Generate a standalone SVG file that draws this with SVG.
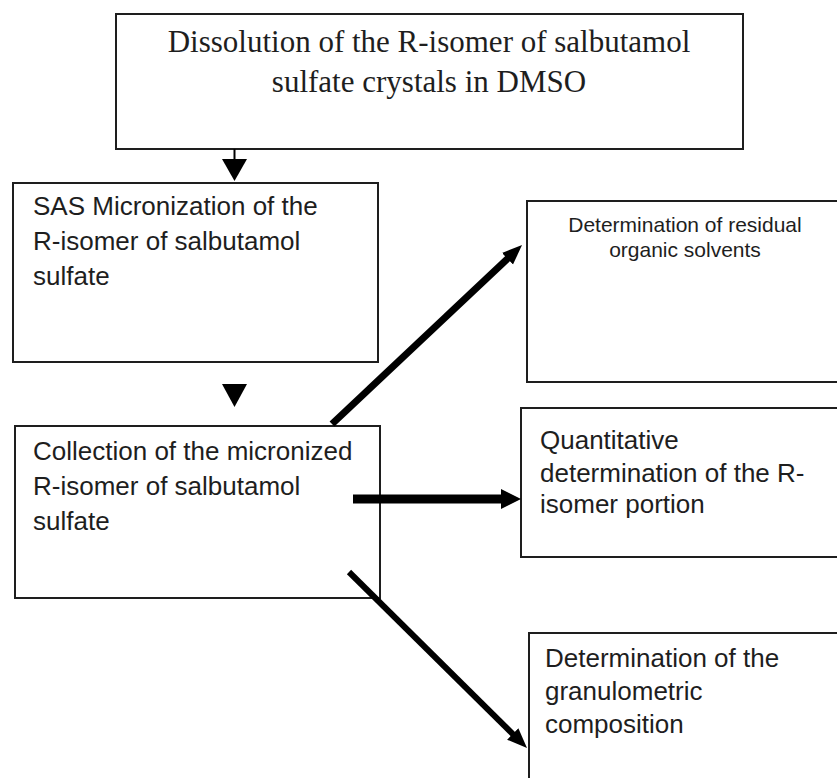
<svg xmlns="http://www.w3.org/2000/svg" width="837" height="778" viewBox="0 0 837 778">
  <defs>
    <style>
      .box { fill: #ffffff; stroke: #1e1e1e; stroke-width: 2; }
      .serif { font-family: "Liberation Serif", "Times New Roman", serif; font-size: 31px; fill: #1e1e1e; }
      .sans { font-family: "Liberation Sans", Arial, sans-serif; font-size: 26px; fill: #1e1e1e; }
      .small { font-family: "Liberation Sans", Arial, sans-serif; font-size: 21px; fill: #1e1e1e; }
      .conn { stroke: #000000; fill: none; stroke-linecap: butt; }
      .head { fill: #000000; stroke: none; }
    </style>
    <marker id="arrowA" markerUnits="userSpaceOnUse" markerWidth="22" markerHeight="18" refX="4" refY="8" orient="auto" viewBox="0 0 22 18">
      <path d="M0,0 L20,8 L0,16 z" fill="#000000"/>
    </marker>
    <marker id="arrowB" markerUnits="userSpaceOnUse" markerWidth="22" markerHeight="22" refX="4" refY="10" orient="auto" viewBox="0 0 22 22">
      <path d="M0,0 L20,10 L0,20 z" fill="#000000"/>
    </marker>
  </defs>
  <rect x="0" y="0" width="837" height="778" fill="#ffffff"/>

  <g id="node-dissolution">
    <rect class="box" x="116" y="14" width="627" height="135"/>
    <text class="serif" x="429" y="52" text-anchor="middle">Dissolution of the R-isomer of salbutamol</text>
    <text class="serif" x="429" y="92" text-anchor="middle">sulfate crystals in DMSO</text>
  </g>

  <g id="node-sas">
    <rect class="box" x="13" y="183" width="365" height="179"/>
    <text class="sans" x="33" y="215">SAS Micronization of the</text>
    <text class="sans" x="33" y="250">R-isomer of salbutamol</text>
    <text class="sans" x="33" y="285">sulfate</text>
  </g>

  <g id="node-collection">
    <rect class="box" x="15" y="426" width="365" height="172"/>
    <text class="sans" x="33" y="460">Collection of the micronized</text>
    <text class="sans" x="33" y="495">R-isomer of salbutamol</text>
    <text class="sans" x="33" y="530">sulfate</text>
  </g>

  <g id="node-residual">
    <rect class="box" x="527" y="201" width="330" height="181"/>
    <text class="small" x="685" y="232" text-anchor="middle">Determination of residual</text>
    <text class="small" x="685" y="257" text-anchor="middle">organic solvents</text>
  </g>

  <g id="node-quantitative">
    <rect class="box" x="521" y="408" width="330" height="149"/>
    <text class="sans" x="540" y="449">Quantitative</text>
    <text class="sans" x="540" y="482">determination of the R-</text>
    <text class="sans" x="540" y="513">isomer portion</text>
  </g>

  <g id="node-granulometric">
    <rect class="box" x="529" y="633" width="330" height="170"/>
    <text class="sans" x="545" y="667">Determination of the</text>
    <text class="sans" x="545" y="700">granulometric</text>
    <text class="sans" x="545" y="733">composition</text>
  </g>

  <g id="connectors">
    <line class="conn" x1="234.5" y1="149" x2="234.5" y2="161" stroke-width="2"/>
    <polygon class="head" points="222,159 247,159 234.5,181"/>
    <polygon class="head" points="222,384 247,384 234.5,407"/>
    <line class="conn" x1="332" y1="424" x2="510.4" y2="256" stroke-width="7" marker-end="url(#arrowA)"/>
    <line class="conn" x1="353" y1="499" x2="505" y2="499" stroke-width="9" marker-end="url(#arrowB)"/>
    <line class="conn" x1="349" y1="572" x2="515.6" y2="736.8" stroke-width="6" marker-end="url(#arrowA)"/>
  </g>
</svg>
